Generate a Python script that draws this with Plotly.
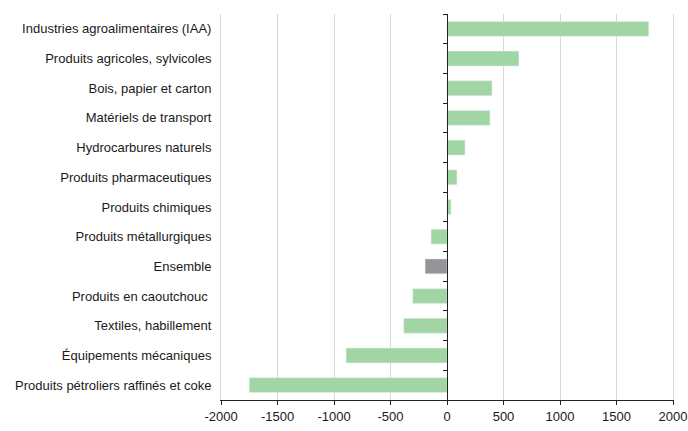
import plotly.graph_objects as go

categories = [
    "Industries agroalimentaires (IAA)",
    "Produits agricoles, sylvicoles",
    "Bois, papier et carton",
    "Matériels de transport",
    "Hydrocarbures naturels",
    "Produits pharmaceutiques",
    "Produits chimiques",
    "Produits métallurgiques",
    "Ensemble",
    "Produits en caoutchouc ",
    "Textiles, habillement",
    "Équipements mécaniques",
    "Produits pétroliers raffinés et coke",
]
values = [1785, 636, 398, 380, 159, 88, 35, -141, -194, -303, -383, -893, -1750]
x_ticks = [-2000, -1500, -1000, -500, 0, 500, 1000, 1500, 2000]

GREEN = "#a1d6a4"
GRAY = "#939598"
colors = [GRAY if c == "Ensemble" else GREEN for c in categories]

fig = go.Figure()
fig.add_trace(go.Bar(x=values, y=categories, orientation="h",
                     marker=dict(color=colors, line=dict(width=0)),
                     showlegend=False))
# invisible trace to carry the centre axis (at x = 0)
fig.add_trace(go.Bar(x=values, y=categories, orientation="h", yaxis="y2",
                     marker=dict(color="rgba(0,0,0,0)"), showlegend=False,
                     hoverinfo="skip"))

fig.update_layout(
    width=688, height=431,
    margin=dict(l=221, r=15, t=14, b=31),
    paper_bgcolor="white", plot_bgcolor="white",
    bargap=0.5,
    barmode="overlay",
    font=dict(family="Liberation Sans, Arial, sans-serif", size=13, color="#1a1a1a"),
    xaxis=dict(range=[-2000, 2000], tickvals=x_ticks, ticktext=[str(v) for v in x_ticks],
               automargin=False,
               showgrid=True, gridcolor="#d9d9d9", gridwidth=1,
               zeroline=False, showline=True, linecolor="#222", linewidth=1,
               ticks="outside", ticklen=4, tickcolor="#222",
               tickfont=dict(size=13, color="#1a1a1a")),
    yaxis=dict(type="category", categoryorder="array", categoryarray=categories,
               autorange="reversed", showgrid=False,
               showline=True, mirror=True, linecolor="#d9d9d9", linewidth=1,
               ticks="", automargin=False,
               ticklabelstandoff=6, tickfont=dict(size=13, color="#1a1a1a")),
    yaxis2=dict(type="category", categoryorder="array", categoryarray=categories,
                autorange="reversed", overlaying="y", anchor="free", position=0.5,
                automargin=False,
                showline=True, linecolor="#222", linewidth=1, showgrid=False,
                ticks="outside", tickson="boundaries", ticklen=4, tickcolor="#222",
                showticklabels=False),
)

fig.write_html("out.html", config={"displayModeBar": False},
               post_script="document.body.style.margin='0';document.body.style.overflow='hidden';")
